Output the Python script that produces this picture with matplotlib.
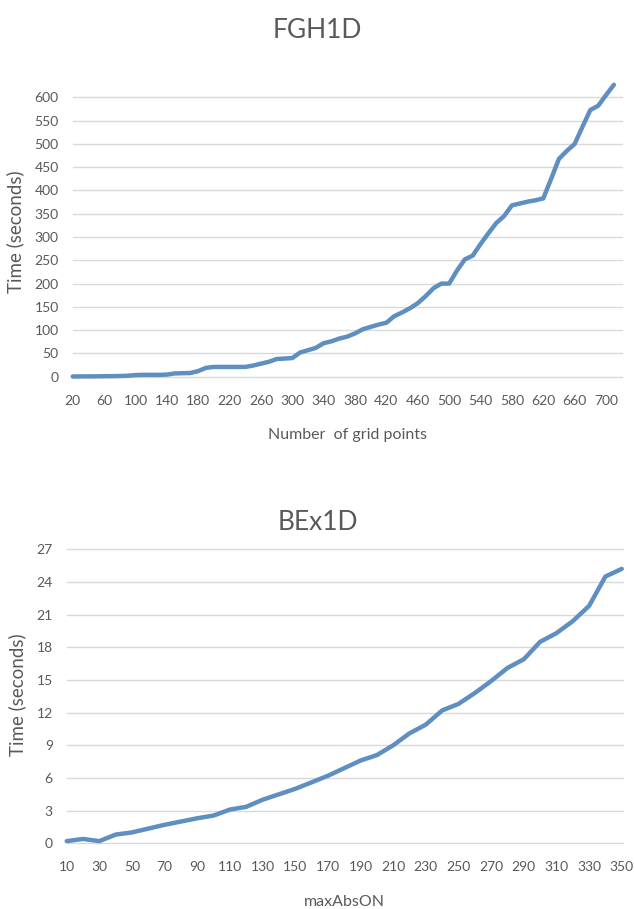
import matplotlib
matplotlib.use("Agg")
import matplotlib.pyplot as plt

# ---------------- data ----------------
fgh_x = list(range(20, 720, 10))
fgh_time = [0.5, 0.6, 0.7, 0.8, 1.0, 1.2, 1.5, 2.0, 3.5, 4.0,
            4.0, 4.0, 4.5, 7.0, 7.5, 8.0, 12, 19, 21, 21,
            21, 21, 21, 24, 28, 32, 38, 39, 40, 52,
            57, 62, 72, 76, 82, 86, 93, 102, 107, 112,
            116, 130, 138, 147, 158, 173, 190, 200, 200, 228,
            252, 260, 285, 308, 330, 345, 368, 372, 376, 379,
            383, 425, 468, 485, 500, 537, 573, 582, 605, 627]
fgh_xticks = list(range(20, 701, 40))
fgh_yticks = list(range(0, 601, 50))

bex_x = list(range(10, 351, 10))
bex_time = [0.2, 0.4, 0.2, 0.8, 1.0, 1.35, 1.7, 2.0, 2.3, 2.55,
            3.1, 3.35, 4.0, 4.5, 5.0, 5.6, 6.2, 6.9, 7.6, 8.1,
            9.0, 10.1, 10.9, 12.2, 12.8, 13.8, 14.9, 16.1, 16.9, 18.5,
            19.3, 20.4, 21.8, 24.5, 25.2]
bex_xticks = list(range(10, 351, 20))
bex_yticks = list(range(0, 28, 3))

# ---------------- style ----------------
FONT = ["Lato", "DejaVu Sans"]
plt.rcParams["font.family"] = FONT
TXT = "#595959"
GRID = "#d9d9d9"
LINE = "#5f8fc0"

W, H = 634, 909
fig = plt.figure(figsize=(W / 100, H / 100), dpi=100)


def px_axes(left, right, top, bottom):
    return fig.add_axes([left / W, 1 - bottom / H, (right - left) / W, (bottom - top) / H])


def style(ax, yticks, xticks):
    for s in ax.spines.values():
        s.set_visible(False)
    ax.set_yticks(yticks)
    ax.set_xticks(xticks)
    ax.tick_params(axis="both", length=0, labelsize=10, colors=TXT)
    ax.tick_params(axis="y", pad=10)
    ax.tick_params(axis="x", pad=13)
    for y in yticks:
        ax.axhline(y, color=GRID, lw=1.0, zorder=1, clip_on=False)


# ---- top chart ----
ax1 = px_axes(72.7, 621.7, 81.1, 376.7)
ax1.set_xlim(20, 720)
ax1.set_ylim(0, 635)
style(ax1, fgh_yticks, fgh_xticks)
ax1.plot(fgh_x, fgh_time, color=LINE, lw=3.2, solid_capstyle="round",
         solid_joinstyle="round", zorder=3, clip_on=False)
ax1.set_ylabel("Time (seconds)", fontsize=13.5, color=TXT)
ax1.yaxis.set_label_coords(-0.088, 0.49)
fig.text(317 / W, 1 - 30 / H, "FGH1D", ha="center", va="center", fontsize=19, color=TXT)
fig.text(347 / W, 1 - 435 / H, "Number  of grid points", ha="center", va="center",
         fontsize=11.5, color=TXT)

# ---- bottom chart ----
ax2 = px_axes(66.7, 622.7, 549.3, 843.3)
ax2.set_xlim(10, 350.6)
ax2.set_ylim(0, 27)
style(ax2, bex_yticks, bex_xticks)
ax2.plot(bex_x, bex_time, color=LINE, lw=3.2, solid_capstyle="round",
         solid_joinstyle="round", zorder=3, clip_on=False)
ax2.set_ylabel("Time (seconds)", fontsize=13.5, color=TXT)
ax2.yaxis.set_label_coords(-0.073, 0.504)
fig.text(318 / W, 1 - 522 / H, "BEx1D", ha="center", va="center", fontsize=19, color=TXT)
fig.text(344 / W, 1 - 902 / H, "maxAbsON", ha="center", va="center",
         fontsize=11.5, color=TXT)

fig.savefig("out.png", dpi=100, facecolor="white")
